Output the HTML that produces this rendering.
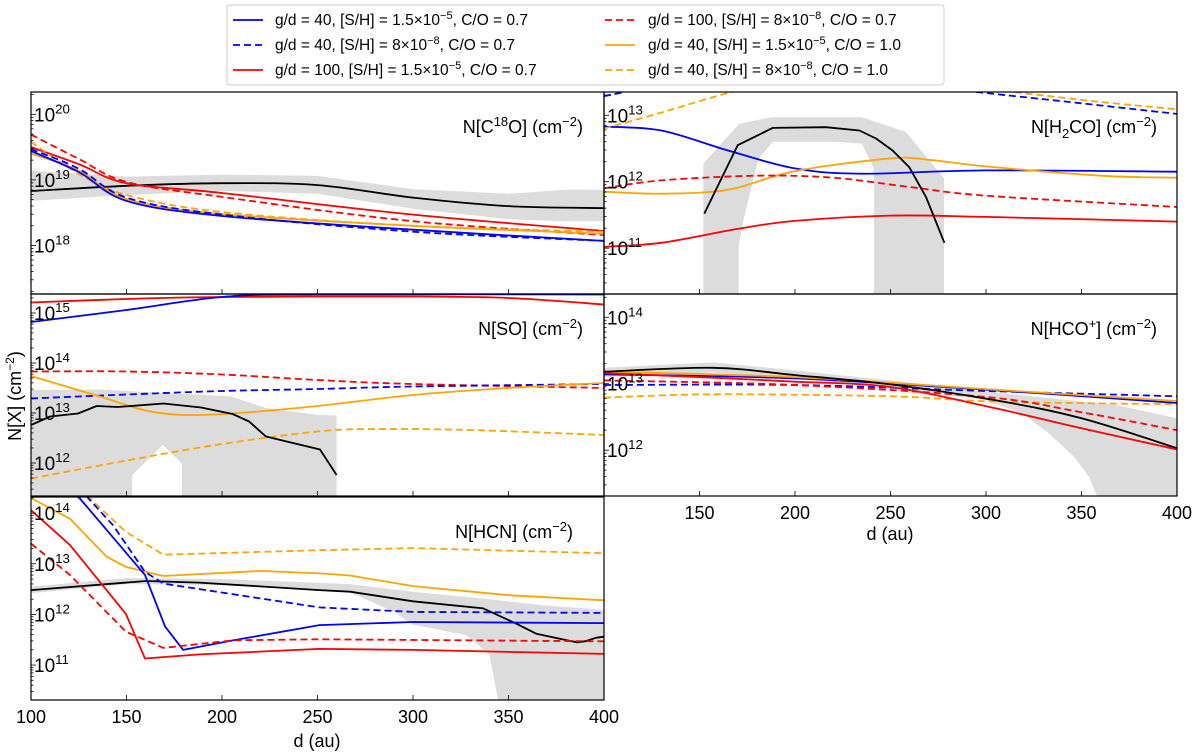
<!DOCTYPE html>
<html><head><meta charset="utf-8"><style>
html,body{margin:0;padding:0;background:#fff}
svg{display:block;font-family:"Liberation Sans","DejaVu Sans",sans-serif}
</style></head><body>
<svg id="chart" width="1200" height="752" viewBox="0 0 1200 752" xmlns="http://www.w3.org/2000/svg"></svg>
<script>
// ---- data (values are log10 of column density, x in au) ----
const xTicks = [100,150,200,250,300,350,400];

// C18O
const c18oX = [100,125,150,200,300,400];
const c18oRed = [19.50,19.24,18.95,18.80,18.47,18.22];
const c18oRedDash = [19.69,19.32,18.97,18.74,18.37,18.16];
const c18oOrange = [19.40,19.14,18.71,18.48,18.30,18.18];
const c18oOrangeDash = [19.58,19.09,18.77,18.51,18.30,18.21];
const c18oBlue = [19.44,19.12,18.68,18.45,18.24,18.07];
const c18oBlueDash = [19.47,19.17,18.73,18.47,18.21,18.07];
const c18oObsX = [100,150,200,250,300,350,400];
const c18oObs = [18.83,18.91,18.95,18.92,18.73,18.60,18.57];
const c18oBandX = [100,150,200,250,300,350,380,400];
const c18oBandHi = [19.14,19.05,19.08,19.06,18.86,18.79,18.85,18.85];
const c18oBandLo = [18.68,18.77,18.83,18.79,18.56,18.40,18.37,18.37];

// H2CO
const h2coBlueX = [100,130,165,200,235,300,400];
const h2coBlue = [12.83,12.77,12.47,12.20,12.12,12.17,12.15];
const h2coOrangeX = [100,130,165,200,250,270,300,360,400];
const h2coOrange = [11.85,11.82,11.88,12.16,12.35,12.33,12.23,12.09,12.06];
const h2coRedDashX = [100,130,180,220,260,300,400];
const h2coRedDash = [11.90,12.02,12.09,12.06,11.92,11.79,11.62];
const h2coRedX = [100,130,170,200,250,300,400];
const h2coRed = [11.02,11.08,11.29,11.41,11.49,11.47,11.40];
const h2coOrangeDashX = [100,130,167,200,250,320,360,400];
const h2coOrangeDash = [12.80,13.04,13.35,13.55,13.55,13.33,13.20,13.09];
const h2coBlueDashX = [100,150,250,295,350,400];
const h2coBlueDash = [13.29,13.50,13.50,13.35,13.18,13.02];
const h2coObsX = [152.5,170,188.3,216.2,233.7,242.4,251.1,259.8,268.6,278.2];
const h2coObs = [11.52,12.55,12.81,12.82,12.77,12.65,12.47,12.22,11.77,11.08];
const h2coGrayX = [152,152,170.7,187.6,235,258,278,278,241.3,241.3,235,222,188.5,181,173.5,170.5,170.5];
const h2coGrayY = [10.31,12.27,12.87,12.97,12.97,12.75,12.05,10.31,10.31,12.2,12.57,12.6,12.6,12.35,11.49,11.04,10.31];

// SO
const soRedX = [100,150,200,300,350,400];
const soRed = [15.21,15.28,15.32,15.33,15.30,15.17];
const soBlueX = [100,150,200,250,400];
const soBlue = [14.82,15.06,15.32,15.37,15.37];
const soRedDashX = [100,150,200,250,300,400];
const soRedDash = [13.83,13.83,13.77,13.66,13.58,13.50];
const soBlueDashX = [100,150,200,250,300,400];
const soBlueDash = [13.29,13.37,13.44,13.48,13.53,13.58];
const soOrangeX = [100,136,160,180,205,250,300,350,400];
const soOrange = [13.74,13.33,13.05,12.96,12.99,13.14,13.36,13.50,13.60];
const soOrangeDashX = [100,150,200,250,280,330,400];
const soOrangeDash = [11.69,12.05,12.38,12.63,12.68,12.66,12.56];
const soObsX = [100,110,124.6,134.4,145.4,169.3,189,205.6,214.2,223,251.3,260];
const soObs = [12.76,12.93,12.99,13.14,13.12,13.19,13.11,12.98,12.83,12.53,12.27,11.76];
const soGrayX = [100,136,205,223,251,260,260,179,179,169,153,153,100];
const soGrayY = [13.46,13.47,13.33,13.1,12.96,12.95,11.34,11.34,11.99,12.36,11.76,11.34,11.34];

// HCO+
const hcoObsX = [100,157,200,250,305,350,400];
const hcoObs = [13.18,13.24,13.13,12.99,12.75,12.48,12.03];
const hcoOrangeX = [100,200,305,400];
const hcoOrange = [13.18,13.10,12.91,12.74];
const hcoBlueX = [100,200,305,400];
const hcoBlue = [13.14,13.08,12.90,12.71];
const hcoRedX = [100,157,200,250,305,350,400];
const hcoRed = [13.16,13.09,13.03,12.95,12.63,12.33,12.01];
const hcoRedDashX = [100,200,300,350,400];
const hcoRedDash = [13.05,12.98,12.80,12.57,12.30];
const hcoBlueDashX = [100,200,300,400];
const hcoBlueDash = [12.98,12.98,12.89,12.81];
const hcoOrangeDashX = [100,157,250,305,400];
const hcoOrangeDash = [12.79,12.84,12.81,12.73,12.69];
const hcoBandHiX = [100,157,200,250,300,368,400];
const hcoBandHi = [13.24,13.32,13.20,13.05,12.88,12.68,12.48];
const hcoBandLoX = [100,157,200,250,300,319,333,346,354,358,400];
const hcoBandLo = [13.10,13.17,13.07,12.93,12.75,12.55,12.25,11.90,11.60,11.31,11.31];

// HCN
const hcnRedX = [100,120.4,149.7,159.7,188.2,251,300,400];
const hcnRed = [14.06,13.37,12.01,11.13,11.21,11.32,11.30,11.22];
const hcnRedDashX = [100,120.4,149.7,169.3,206,251,400];
const hcnRedDash = [13.40,12.78,11.66,11.34,11.49,11.51,11.47];
const hcnOrangeX = [100,120.4,139.6,149.7,169.3,219.9,251,267,300,350,400];
const hcnOrange = [14.30,13.89,13.14,12.94,12.76,12.86,12.81,12.77,12.56,12.38,12.28];
const hcnOrangeDashX = [120,130.9,149.7,169.3,251,300,400];
const hcnOrangeDash = [14.60,14.29,13.63,13.18,13.27,13.31,13.21];
const hcnBlueX = [115,125.6,159.7,170.2,179.7,206,251,300,400];
const hcnBlue = [14.60,14.29,12.78,11.76,11.30,11.49,11.79,11.85,11.83];
const hcnBlueDashX = [125,143,159.7,169.3,251,300,400];
const hcnBlueDash = [14.50,13.76,12.84,12.61,12.14,12.05,12.03];
const hcnObsX = [100,160.4,188,251,267,300,336.8,354,364.5,380.5,385.7,390,396,400];
const hcnObs = [12.48,12.66,12.63,12.48,12.45,12.26,12.12,11.82,11.62,11.49,11.45,11.47,11.54,11.56];
const hcnBandHiX = [100,150,200,267,300,340,368,400];
const hcnBandHi = [12.55,12.72,12.70,12.60,12.45,12.30,12.18,12.09];
const hcnBandLoX = [100,150,200,267,290,300,328,340,344.5,400];
const hcnBandLo = [12.42,12.60,12.58,12.44,12.05,11.80,11.59,11.20,10.31,10.31];

// ---- rendering ----
const NS = "http://www.w3.org/2000/svg";
const svg = document.getElementById('chart');
function mk(tag, attrs, parent){
  const e = document.createElementNS(NS, tag);
  for (const k in attrs) e.setAttribute(k, attrs[k]);
  (parent||svg).appendChild(e);
  return e;
}
const BLUE="#0000ff", RED="#ff0000", ORANGE="#ffa500", GRAY="#dcdcdc";
const DASH="7,4";

function makePanel(id,x0,x1,y0,y1,top,bottom){
  const p={id,x0,x1,y0,y1,top,bottom};
  p.sx=v=>x0+(v-100)/300*(x1-x0);
  p.sy=v=>y0+(top-v)/(top-bottom)*(y1-y0);
  const cp=mk('clipPath',{id:'clip-'+id});
  mk('rect',{x:x0,y:y0,width:x1-x0,height:y1-y0},cp);
  p.g=mk('g',{'clip-path':'url(#clip-'+id+')'});
  
  
  return p;
}
function pathD(p,xs,ys,smooth){
  const pts=xs.map((x,i)=>[p.sx(x),p.sy(ys[i])]);
  let d='M'+pts[0][0].toFixed(1)+','+pts[0][1].toFixed(1);
  for(let i=1;i<pts.length;i++){
    if(!smooth){d+=' L'+pts[i][0].toFixed(1)+','+pts[i][1].toFixed(1);continue;}
    const p0=pts[Math.max(0,i-2)],p1=pts[i-1],p2=pts[i],p3=pts[Math.min(pts.length-1,i+1)];
    const c1=[p1[0]+(p2[0]-p0[0])/6,p1[1]+(p2[1]-p0[1])/6];
    const c2=[p2[0]-(p3[0]-p1[0])/6,p2[1]-(p3[1]-p1[1])/6];
    d+=' C'+c1.map(v=>v.toFixed(1)).join(',')+' '+c2.map(v=>v.toFixed(1)).join(',')+' '+p2[0].toFixed(1)+','+p2[1].toFixed(1);
  }
  return d;
}
function line(p,xs,ys,color,dash,smooth,name){
  const el=mk('path',{d:pathD(p,xs,ys,smooth),fill:'none',stroke:color,'stroke-width':1.8,'stroke-dasharray':dash||'none','stroke-linejoin':'round'},p.g);
  
  
}
function poly(p,xs,ys,name){
  const pts=xs.map((x,i)=>p.sx(x).toFixed(1)+','+p.sy(ys[i]).toFixed(1)).join(' ');
  const el=mk('polygon',{points:pts,fill:GRAY,stroke:'none'},p.g);
  
  
}
function band(p,hx,hy,lx,ly,name){
  const xs=hx.concat(lx.slice().reverse()), ys=hy.concat(ly.slice().reverse());
  poly(p,xs,ys,name);
}
function sup(parent,x,y,base,exp,size,anchor,name){
  const t=mk('text',{x:x,y:y,'font-size':size,fill:'#000','text-anchor':anchor||'start'},parent);
  
  
  t.appendChild(document.createTextNode(base));
  const s=mk('tspan',{dy:-(size*0.42),'font-size':size*0.7},t);
  s.textContent=exp;
  return t;
}
function axes(p,xLabels){
  for(let d=Math.floor(p.bottom);d<=Math.ceil(p.top);d++){
    for(let m=1;m<10;m++){
      const v=d+Math.log10(m);
      if(v<p.bottom||v>p.top) continue;
      const y=p.sy(v), len=m===1?5:2.5;
      const tk=mk('line',{x1:p.x0,x2:p.x0+len,y1:y,y2:y,stroke:'#000','stroke-width':0.8});
      
      
      if(m===1) sup(svg,p.x0+3,y+7,'10',String(d),19,'start',p.id+'-y-tick-label');
    }
  }
  xTicks.forEach(v=>{
    const x=p.sx(v);
    const tk=mk('line',{x1:x,x2:x,y1:p.y1,y2:p.y1-5,stroke:'#000','stroke-width':0.8});
    
    
    if(xLabels && !(xLabels==='skipfirst' && v===100)){
      const t=mk('text',{x:x,y:p.y1+23,'font-size':18,'text-anchor':'middle',fill:'#000'});
      
      
      t.textContent=String(v);
    }
  });
  const fr=mk('rect',{x:p.x0,y:p.y0,width:p.x1-p.x0,height:p.y1-p.y0,fill:'none',stroke:'#000','stroke-width':1.2});
  
  
}
function title(x,y,parts,name){
  const t=mk('text',{x:x,y:y,'font-size':18,'text-anchor':'end',fill:'#000'});
  
  
  let shift=0;
  parts.forEach(([s,mode])=>{
    const target = mode==='sup'?-7:mode==='sub'?5:0;
    const ts=mk('tspan',{dy:target-shift,'font-size':mode?13:18},t);
    ts.textContent=s; shift=target;
  });
}

const P1=makePanel('c18o',31,604,92,294,20.34,17.26);
const P2=makePanel('h2co',604,1177,92,294,13.35,10.31);
const P3=makePanel('so',31,604,294,496,15.38,11.34);
const P4=makePanel('hcop',604,1177,294,496,14.35,11.31);
const P5=makePanel('hcn',31,604,497,700,14.32,10.31);

band(P1,c18oBandX,c18oBandHi,c18oBandX,c18oBandLo,'c18o-obs-band');
line(P1,c18oObsX,c18oObs,'#000',null,true,'c18o-observed');
line(P1,c18oX,c18oRed,RED,null,true,'c18o-gd100-sh15e-5');
line(P1,c18oX,c18oRedDash,RED,DASH,true,'c18o-gd100-sh8e-8');
line(P1,c18oX,c18oOrange,ORANGE,null,true,'c18o-co1-sh15e-5');
line(P1,c18oX,c18oOrangeDash,ORANGE,DASH,true,'c18o-co1-sh8e-8');
line(P1,c18oX,c18oBlue,BLUE,null,true,'c18o-gd40-sh15e-5');
line(P1,c18oX,c18oBlueDash,BLUE,DASH,true,'c18o-gd40-sh8e-8');

poly(P2,h2coGrayX,h2coGrayY,'h2co-obs-band');
line(P2,h2coBlueX,h2coBlue,BLUE,null,true,'h2co-gd40-sh15e-5');
line(P2,h2coBlueDashX,h2coBlueDash,BLUE,DASH,true,'h2co-gd40-sh8e-8');
line(P2,h2coOrangeX,h2coOrange,ORANGE,null,true,'h2co-co1-sh15e-5');
line(P2,h2coOrangeDashX,h2coOrangeDash,ORANGE,DASH,true,'h2co-co1-sh8e-8');
line(P2,h2coRedX,h2coRed,RED,null,true,'h2co-gd100-sh15e-5');
line(P2,h2coRedDashX,h2coRedDash,RED,DASH,true,'h2co-gd100-sh8e-8');
line(P2,h2coObsX,h2coObs,'#000',null,false,'h2co-observed');

poly(P3,soGrayX,soGrayY,'so-obs-band');
line(P3,soRedX,soRed,RED,null,true,'so-gd100-sh15e-5');
line(P3,soBlueX,soBlue,BLUE,null,true,'so-gd40-sh15e-5');
line(P3,soRedDashX,soRedDash,RED,DASH,true,'so-gd100-sh8e-8');
line(P3,soBlueDashX,soBlueDash,BLUE,DASH,true,'so-gd40-sh8e-8');
line(P3,soOrangeX,soOrange,ORANGE,null,true,'so-co1-sh15e-5');
line(P3,soOrangeDashX,soOrangeDash,ORANGE,DASH,true,'so-co1-sh8e-8');
line(P3,soObsX,soObs,'#000',null,false,'so-observed');

band(P4,hcoBandHiX,hcoBandHi,hcoBandLoX,hcoBandLo,'hcop-obs-band');
line(P4,hcoBlueDashX,hcoBlueDash,BLUE,DASH,true,'hcop-gd40-sh8e-8');
line(P4,hcoOrangeDashX,hcoOrangeDash,ORANGE,DASH,true,'hcop-co1-sh8e-8');
line(P4,hcoRedDashX,hcoRedDash,RED,DASH,true,'hcop-gd100-sh8e-8');
line(P4,hcoBlueX,hcoBlue,BLUE,null,true,'hcop-gd40-sh15e-5');
line(P4,hcoOrangeX,hcoOrange,ORANGE,null,true,'hcop-co1-sh15e-5');
line(P4,hcoObsX,hcoObs,'#000',null,true,'hcop-observed');
line(P4,hcoRedX,hcoRed,RED,null,true,'hcop-gd100-sh15e-5');

band(P5,hcnBandHiX,hcnBandHi,hcnBandLoX,hcnBandLo,'hcn-obs-band');
line(P5,hcnObsX,hcnObs,'#000',null,false,'hcn-observed');
line(P5,hcnOrangeDashX,hcnOrangeDash,ORANGE,DASH,false,'hcn-co1-sh8e-8');
line(P5,hcnOrangeX,hcnOrange,ORANGE,null,false,'hcn-co1-sh15e-5');
line(P5,hcnBlueDashX,hcnBlueDash,BLUE,DASH,false,'hcn-gd40-sh8e-8');
line(P5,hcnBlueX,hcnBlue,BLUE,null,false,'hcn-gd40-sh15e-5');
line(P5,hcnRedDashX,hcnRedDash,RED,DASH,false,'hcn-gd100-sh8e-8');
line(P5,hcnRedX,hcnRed,RED,null,false,'hcn-gd100-sh15e-5');

axes(P1,false); axes(P2,false); axes(P3,false); axes(P4,'skipfirst'); axes(P5,true);

title(583,133,[['N[C',''],['18','sup'],['O] (cm',''],['−2','sup'],[')','']],'c18o-panel-title');
title(1157,133,[['N[H',''],['2','sub'],['CO] (cm',''],['−2','sup'],[')','']],'h2co-panel-title');
title(583,335,[['N[SO] (cm',''],['−2','sup'],[')','']],'so-panel-title');
title(1157,335,[['N[HCO',''],['+','sup'],['] (cm',''],['−2','sup'],[')','']],'hcop-panel-title');
title(573,538,[['N[HCN] (cm',''],['−2','sup'],[')','']],'hcn-panel-title');

let t=mk('text',{x:317,y:747,'font-size':18,'text-anchor':'middle'});


t.textContent='d (au)';
t=mk('text',{x:890,y:540,'font-size':18,'text-anchor':'middle'});


t.textContent='d (au)';
t=mk('text',{x:0,y:0,'font-size':18,'text-anchor':'middle',transform:'translate(21,396) rotate(-90)'});


t.appendChild(document.createTextNode('N[X] (cm'));
let s=mk('tspan',{dy:-7,'font-size':12},t); s.textContent='−2';
s=mk('tspan',{dy:7,'font-size':18},t); s.textContent=')';

const lg=mk('g',{});


mk('rect',{x:227,y:5,width:717,height:80,rx:3,fill:'#fff',stroke:'#cccccc','stroke-width':1},lg);
const legendLabels=[
 ['40','1.5×10','−5','0.7',BLUE,null],
 ['40','8×10','−8','0.7',BLUE,DASH],
 ['100','1.5×10','−5','0.7',RED,null],
 ['100','8×10','−8','0.7',RED,DASH],
 ['40','1.5×10','−5','1.0',ORANGE,null],
 ['40','8×10','−8','1.0',ORANGE,DASH]];
legendLabels.forEach((L,i)=>{
  const col=i<3?0:1, row=i%3;
  const lx=col?605:233, tx=col?648:275, cy=20+row*25;
  const e=mk('g',{},lg);
  
  
  mk('line',{x1:lx,x2:lx+30,y1:cy,y2:cy,stroke:L[4],'stroke-width':1.8,'stroke-dasharray':L[5]||'none'},e);
  const tt=mk('text',{x:tx,y:cy+5,'font-size':15.5},e);
  tt.appendChild(document.createTextNode('g/d = '+L[0]+', [S/H] = '+L[1]));
  let a=mk('tspan',{dy:-6,'font-size':11},tt); a.textContent=L[2];
  a=mk('tspan',{dy:6,'font-size':15.5},tt); a.textContent=', C/O = '+L[3];
});
</script>
</body></html>
